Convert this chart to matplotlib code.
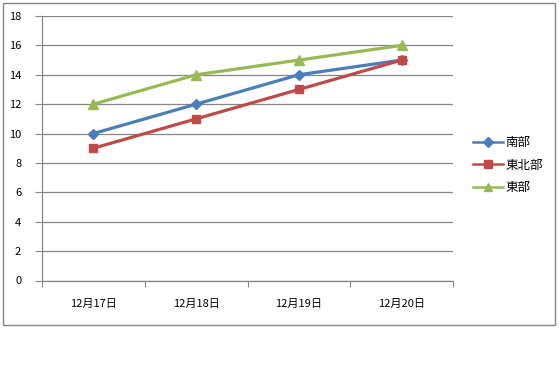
import matplotlib
matplotlib.use("Agg")
import matplotlib.pyplot as plt
from matplotlib.patches import Rectangle

plt.rcParams['font.family'] = ['Noto Sans CJK JP', 'DejaVu Sans']

# data
dates = ["12月17日", "12月18日", "12月19日", "12月20日"]
south = [10, 12, 14, 15]
northeast = [9, 11, 13, 15]
east = [12, 14, 15, 16]
series_names = ["南部", "東北部", "東部"]

W, H = 559, 384
fig = plt.figure(figsize=(W / 100, H / 100), dpi=100)

# outer chart border
fig.patches.append(Rectangle((3 / W, 1 - 325 / H), 552 / W, 322 / H,
                             transform=fig.transFigure, fill=False,
                             edgecolor="#868686", linewidth=1.0))

ax = fig.add_axes([42 / W, 1 - 280.5 / H, 411 / W, 264.5 / H])

grid_c = "#868686"
x = list(range(len(dates)))
ax.plot(x, south, color="#4A7EBB", lw=2.3, marker="D", ms=5.5,
        label=series_names[0], zorder=3)
ax.plot(x, northeast, color="#BE4B48", lw=2.3, marker="s", ms=6,
        label=series_names[1], zorder=3)
ax.plot(x, east, color="#98B954", lw=2.3, marker="^", ms=7,
        label=series_names[2], zorder=3)

ax.set_xlim(-0.5, len(dates) - 0.5)
ax.set_ylim(0, 18)
ax.set_yticks(range(0, 19, 2))
ax.yaxis.grid(True, color=grid_c, lw=0.9)
ax.set_axisbelow(True)

ax.set_xticks([i - 0.5 for i in range(len(dates) + 1)])
ax.set_xticklabels([])
ax.set_xticks(x, minor=True)
ax.set_xticklabels(dates, minor=True)
ax.tick_params(axis="x", which="minor", length=0, pad=13, labelsize=8)
ax.tick_params(axis="x", which="major", length=4, color=grid_c, direction="out")
ax.tick_params(axis="y", length=5, color=grid_c, labelsize=8, pad=10)

for s in ["top", "right"]:
    ax.spines[s].set_visible(False)
for s in ["left", "bottom"]:
    ax.spines[s].set_color(grid_c)
    ax.spines[s].set_linewidth(0.9)

leg = ax.legend(loc="center left", bbox_to_anchor=(462 / W, 1 - 165 / H),
                bbox_transform=fig.transFigure, frameon=False, fontsize=9,
                handlelength=2.4, labelspacing=0.75, handletextpad=0.15,
                markerscale=0.9)
for line in leg.get_lines():
    line.set_linewidth(1.8)

fig.savefig("out.png", dpi=100)
